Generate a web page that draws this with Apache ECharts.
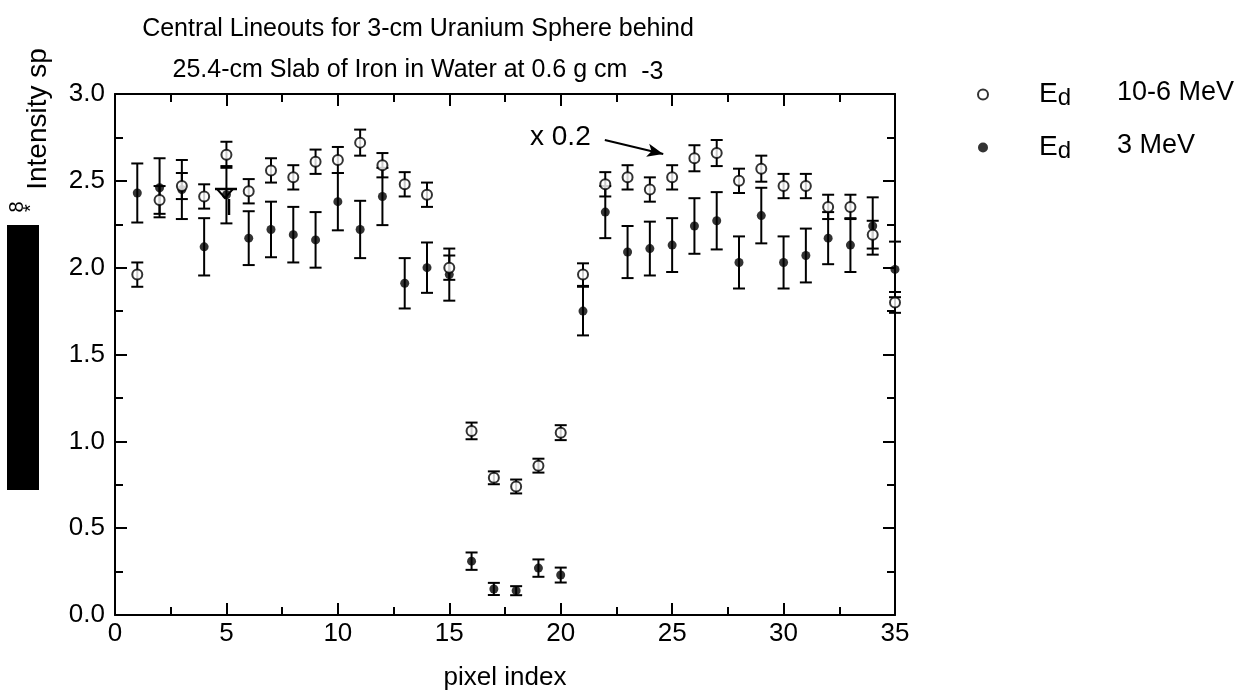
<!DOCTYPE html>
<html>
<head>
<meta charset="utf-8">
<script src="https://cdn.jsdelivr.net/npm/echarts@6/dist/echarts.min.js"></script>
<style>
  html, body { margin: 0; padding: 0; background: #fff; }
  #chart { width: 1250px; height: 698px; }
</style>
</head>
<body>
<div id="chart"></div>
<script>
// pixel index 1..35
var pixels = [1, 2, 3, 4, 5, 6, 7, 8, 9, 10, 11, 12, 13, 14, 15, 16, 17, 18, 19, 20,
  21, 22, 23, 24, 25, 26, 27, 28, 29, 30, 31, 32, 33, 34, 35];

// Ed 10-6 MeV (open circles, scaled x 0.2)
var highE = [1.96, 2.39, 2.47, 2.41, 2.65, 2.44, 2.56, 2.52, 2.61, 2.62, 2.72, 2.59, 2.48, 2.42, 2.00,
  1.06, 0.79, 0.74, 0.86, 1.05, 1.96, 2.48, 2.52, 2.45, 2.52, 2.63, 2.66, 2.50, 2.57, 2.47,
  2.47, 2.35, 2.35, 2.19, 1.80];
var highErr = [0.07, 0.08, 0.075, 0.07, 0.075, 0.07, 0.07, 0.07, 0.07, 0.075, 0.075, 0.07, 0.07, 0.07, 0.07,
  0.048, 0.037, 0.04, 0.04, 0.043, 0.065, 0.07, 0.07, 0.07, 0.07, 0.075, 0.075, 0.07, 0.075, 0.07,
  0.07, 0.07, 0.07, 0.08, 0.06];

// Ed 3 MeV (filled dots)
var lowE = [2.43, 2.46, 2.45, 2.12, 2.42, 2.17, 2.22, 2.19, 2.16, 2.38, 2.22, 2.41, 1.91, 2.00, 1.96,
  0.31, 0.15, 0.14, 0.27, 0.23, 1.75, 2.32, 2.09, 2.11, 2.13, 2.24, 2.27, 2.03, 2.30, 2.03,
  2.07, 2.17, 2.13, 2.24, 1.99];
var lowErr = [0.17, 0.17, 0.17, 0.165, 0.165, 0.155, 0.16, 0.16, 0.16, 0.165, 0.165, 0.165, 0.145, 0.145, 0.15,
  0.05, 0.035, 0.026, 0.05, 0.043, 0.14, 0.15, 0.15, 0.155, 0.155, 0.16, 0.165, 0.15, 0.16, 0.15,
  0.155, 0.15, 0.155, 0.165, 0.16];

var FONT = 'Liberation Sans, Arial, sans-serif';

function errorBars(name, vals, errs) {
  return {
    type: 'custom',
    name: name,
    silent: true,
    data: pixels.map(function (p, i) { return [p, vals[i] - errs[i], vals[i] + errs[i]]; }),
    encode: { x: 0, y: [1, 2] },
    renderItem: function (params, api) {
      var x = api.value(0);
      var top = api.coord([x, api.value(2)]);
      var bot = api.coord([x, api.value(1)]);
      var w = 6;
      var st = { stroke: '#000', lineWidth: 2 };
      return {
        type: 'group',
        children: [
          { type: 'line', shape: { x1: top[0], y1: top[1], x2: bot[0], y2: bot[1] }, style: st },
          { type: 'line', shape: { x1: top[0] - w, y1: top[1], x2: top[0] + w, y2: top[1] }, style: st },
          { type: 'line', shape: { x1: bot[0] - w, y1: bot[1], x2: bot[0] + w, y2: bot[1] }, style: st }
        ]
      };
    }
  };
}

// an axis that only draws inward ticks (major or minor)
function tickAxis(pos, max, step, len, withLine) {
  return {
    type: 'value', min: 0, max: max, interval: step, position: pos,
    axisLine: { show: withLine, onZero: false, lineStyle: { color: '#000', width: 2 } },
    axisTick: { show: true, inside: true, length: len, lineStyle: { color: '#000', width: 2 } },
    axisLabel: { show: false },
    splitLine: { show: false }
  };
}

var chart = echarts.init(document.getElementById('chart'));

var xMain = tickAxis('bottom', 35, 5, 12, true);
xMain.name = 'pixel index';
xMain.nameLocation = 'middle';
xMain.nameGap = 50;
xMain.nameTextStyle = { fontFamily: FONT, fontSize: 26, color: '#000' };
xMain.axisLabel = { show: true, fontFamily: FONT, fontSize: 26, color: '#000', margin: 6 };

var yMain = tickAxis('left', 3, 0.5, 12, true);
yMain.axisLabel = { show: true, fontFamily: FONT, fontSize: 26, color: '#000', margin: 10,
  formatter: function (v) { return v.toFixed(1); } };

chart.setOption({
  backgroundColor: '#fff',
  animation: false,
  textStyle: { fontFamily: FONT },
  title: {
    text: 'Central Lineouts for 3-cm Uranium Sphere behind\n25.4-cm Slab of Iron in Water at 0.6 g cm  {sup|-3}',
    left: 413,
    top: 4,
    textAlign: 'center',
    textStyle: {
      fontFamily: FONT, fontSize: 25, fontWeight: 'normal', color: '#000', lineHeight: 41,
      rich: {
        sup: { fontFamily: FONT, fontSize: 25, color: '#000', verticalAlign: 'bottom', padding: [0, 0, 6, 0] }
      }
    }
  },
  legend: {
    orient: 'vertical',
    left: 972,
    top: 74,
    itemWidth: 10,
    itemHeight: 10,
    itemGap: 22,
    data: ['Ed 10-6 MeV', 'Ed 3 MeV'],
    formatter: function (n) {
      return '{sp|}{e|E}{d|d}{sp2|}{v|' + n.slice(3) + '}';
    },
    textStyle: {
      color: '#000',
      rich: {
        sp: { width: 46 },
        sp2: { width: 46 },
        e: { fontFamily: FONT, fontSize: 28, color: '#000', verticalAlign: 'bottom', padding: [0, 0, 2, 0] },
        d: { fontFamily: FONT, fontSize: 24, color: '#000', verticalAlign: 'bottom', padding: [0, 0, 0, 0] },
        v: { fontFamily: FONT, fontSize: 27, color: '#000', verticalAlign: 'bottom', padding: [0, 0, 4, 0] }
      }
    }
  },
  grid: { left: 115, right: 355, top: 94, bottom: 83 },
  xAxis: [
    xMain,
    tickAxis('bottom', 35, 2.5, 8, false),
    tickAxis('top', 35, 5, 12, true),
    tickAxis('top', 35, 2.5, 8, false)
  ],
  yAxis: [
    yMain,
    tickAxis('left', 3, 0.25, 8, false),
    tickAxis('right', 3, 0.5, 12, true),
    tickAxis('right', 3, 0.25, 8, false)
  ],
  series: [
    errorBars('err3', lowE, lowErr),
    {
      name: 'Ed 3 MeV',
      type: 'scatter',
      symbol: 'circle',
      symbolSize: 9,
      itemStyle: { color: '#000' },
      data: pixels.map(function (p, i) { return [p, lowE[i]]; }),
      z: 3
    },
    errorBars('err10', highE, highErr),
    {
      name: 'Ed 10-6 MeV',
      type: 'scatter',
      symbol: 'circle',
      symbolSize: 10,
      itemStyle: { color: '#fff', borderColor: '#000', borderWidth: 2 },
      data: pixels.map(function (p, i) { return [p, highE[i]]; }),
      z: 4,
      markLine: {
        silent: true,
        symbol: ['none', 'arrow'],
        symbolSize: [10, 16],
        label: { show: false },
        lineStyle: { color: '#000', width: 2, type: 'solid' },
        data: [[{ coord: [21.98, 2.735] }, { coord: [24.6, 2.655] }]]
      }
    }
  ],
  graphic: [
    // y axis title (rotated)
    { type: 'text', x: 38, y: 119, rotation: Math.PI / 2,
      style: { text: 'Intensity sp', font: '28px ' + FONT, fill: '#000', align: 'center', verticalAlign: 'middle' } },
    { type: 'text', x: 17, y: 207, rotation: Math.PI / 2,
      style: { text: '8', font: '20px ' + FONT, fill: '#000', align: 'center', verticalAlign: 'middle' } },
    { type: 'text', x: 31, y: 208, rotation: Math.PI / 2,
      style: { text: '*', font: '20px ' + FONT, fill: '#000', align: 'center', verticalAlign: 'middle' } },
    { type: 'rect', shape: { x: 7, y: 225, width: 32, height: 265 }, style: { fill: '#000' } },
    // annotation
    { type: 'text', x: 530, y: 137,
      style: { text: 'x 0.2', font: '28px ' + FONT, fill: '#000', verticalAlign: 'middle' } },
    // stray marker near pixel 5
    { type: 'polyline', shape: { points: [[215, 189], [237, 189]] }, style: { stroke: '#000', lineWidth: 2.5 }, z: 10 },
    { type: 'polygon', shape: { points: [[217, 189], [233, 189], [225, 198]] }, style: { fill: 'none', stroke: '#000', lineWidth: 2 }, z: 10 },
    { type: 'polyline', shape: { points: [[229, 199], [229, 215]] }, style: { stroke: '#000', lineWidth: 2.5 }, z: 10 }
  ]
});
</script>
</body>
</html>
